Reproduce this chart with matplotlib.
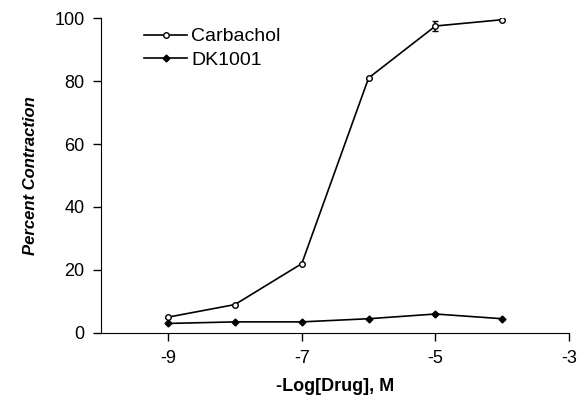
import matplotlib
matplotlib.use('Agg')
import matplotlib.pyplot as plt
from matplotlib.lines import Line2D

log_dose = [-9, -8, -7, -6, -5, -4]
carbachol = [5, 9, 22, 81, 97.5, 99.5]
carbachol_err = [0, 0, 0, 0, 1.5, 0]
dk1001 = [3, 3.5, 3.5, 4.5, 6, 4.5]

plt.rcParams['font.family'] = ['Liberation Sans', 'DejaVu Sans']
plt.rcParams['axes.unicode_minus'] = False

fig = plt.figure(figsize=(5.85, 4.12), dpi=100)
ax = fig.add_axes([0.173, 0.192, 0.8, 0.764])

ax.errorbar(log_dose, carbachol, yerr=carbachol_err, color='black', lw=1.2,
            marker='o', ms=4, mfc='white', mec='black', mew=1, capsize=2)
ax.plot(log_dose, dk1001, color='black', lw=1.2, marker='D', ms=3.5)

ax.set_xlim(-10, -3)
ax.set_ylim(0, 100)
ax.set_xticks([-9, -7, -5, -3])
ax.set_yticks([0, 20, 40, 60, 80, 100])
ax.spines['top'].set_visible(False)
ax.spines['right'].set_visible(False)
ax.tick_params(direction='out', length=6, width=1, labelsize=13, pad=6)

ax.set_xlabel('-Log[Drug], M', fontsize=13, fontweight='bold', labelpad=8)
ax.set_ylabel('Percent Contraction', fontsize=12, fontweight='bold',
              fontstyle='italic', labelpad=12)

handles = [
    Line2D([], [], color='black', lw=1.2, marker='o', ms=4, mfc='white', mec='black'),
    Line2D([], [], color='black', lw=1.2, marker='D', ms=3.5),
]
ax.legend(handles, ['Carbachol', 'DK1001'], loc='upper left',
          bbox_to_anchor=(0.055, 1.025), frameon=False, fontsize=14,
          handlelength=2.2, handletextpad=0.2, labelspacing=0.3)

fig.savefig('out.png', dpi=100)
